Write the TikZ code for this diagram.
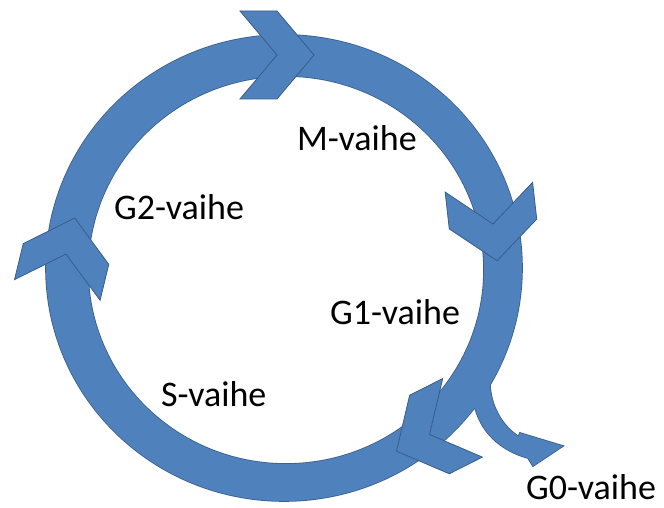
\documentclass[tikz,border=0pt]{standalone}
\usepackage{fontspec}
\setmainfont{Carlito}
\definecolor{ringblue}{HTML}{4F81BD}
\definecolor{ringedge}{HTML}{385D8A}
\tikzset{
  bandfill/.style={fill=ringblue},
  bandedge/.style={draw=ringedge, line width=1.6pt},
  chevshape/.style={fill=ringblue, draw=ringedge, line width=0.8pt, line join=miter},
  phase/.style={anchor=base west, inner sep=0pt, font=\fontsize{36}{43}\selectfont, text=black}
}
\newcommand\chevronat[3]{%
  \begin{scope}[shift={(#1,#2)}, rotate=-#3]
    \path[chevshape] (-37,-44) -- (0,-44) -- (37,0) -- (0,44) -- (-37,44) -- (0,0) -- cycle;
  \end{scope}}
\begin{document}
\begin{tikzpicture}[x=1pt, y=-1pt]
\useasboundingbox (0,0) rectangle (664,508);
% ring + G0 branch (merged outline)
\def\ringpath{(284,268) ellipse [x radius=238pt, y radius=233pt] (286,270) ellipse [x radius=198pt, y radius=194pt]}
\def\branchpath{(490,383) .. controls (490,405) and (502,426) .. (518.5,436.5) -- (520,433) -- (563,446) -- (533,466) -- (528,458) .. controls (506,452) and (483,437) .. (475,408) -- (468,390) -- (482,368) -- cycle}
\path[bandedge, even odd rule] \ringpath;
\path[bandedge, line join=miter] \branchpath;
\path[bandfill, even odd rule] \ringpath;
\path[bandfill] \branchpath;
% chevrons
\chevronat{277}{55}{0}
\chevronat{493}{224}{83.6}
\chevronat{66}{254}{-76.4}
\chevronat{429.5}{434.5}{153.2}
% labels
\node[phase] (m)  at (297,150) {M-vaihe};
\node[phase] (g2) at (114,219) {G2-vaihe};
\node[phase] (g1) at (330,324) {G1-vaihe};
\node[phase] (s)  at (161,406) {S-vaihe};
\node[phase] (g0) at (526,499) {G0-vaihe};
\end{tikzpicture}
\end{document}
